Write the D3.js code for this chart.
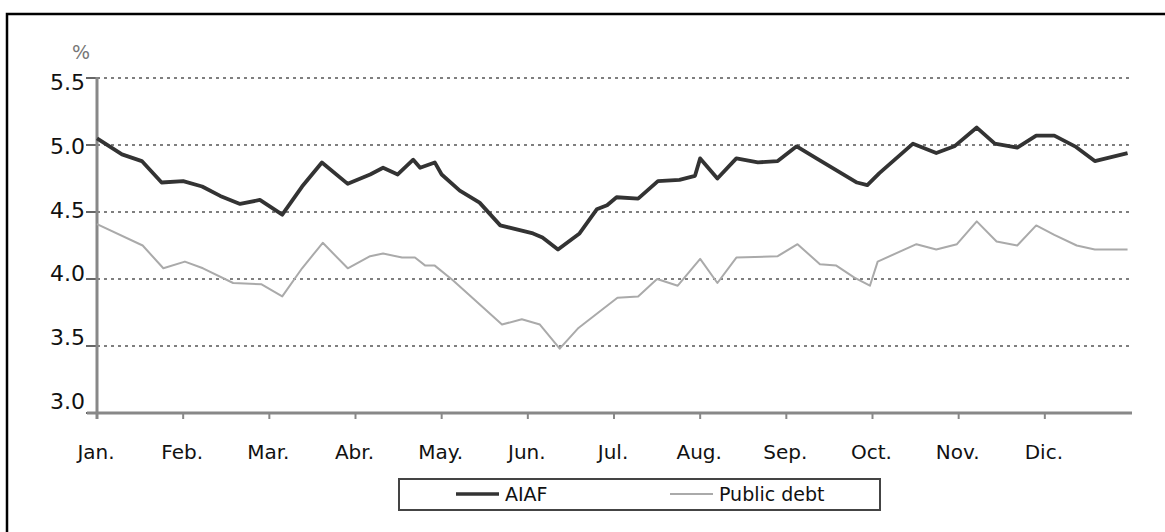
<!DOCTYPE html>
<html>
<head>
<meta charset="utf-8">
<script src="https://cdn.jsdelivr.net/npm/d3@7"></script>
<style>
  html, body { margin: 0; padding: 0; background: #fff; }
  svg { display: block; font-family: "DejaVu Sans", Verdana, sans-serif; }
</style>
</head>
<body>
<svg id="chart" width="1165" height="532"></svg>
<script>
// ---- data ----
const months = ["Jan.", "Feb.", "Mar.", "Abr.", "May.", "Jun.", "Jul.", "Aug.", "Sep.", "Oct.", "Nov.", "Dic."];
const yTicks = [3.0, 3.5, 4.0, 4.5, 5.0, 5.5];
// time position in months from start of January
const aiafT = [0, 0.29, 0.52, 0.75, 1.00, 1.22, 1.43, 1.66, 1.89, 2.15, 2.38, 2.61, 2.91, 3.17, 3.32, 3.49, 3.67, 3.75, 3.92, 4.00,
  4.21, 4.44, 4.68, 5.06, 5.17, 5.35, 5.60, 5.80, 5.92, 6.03, 6.28, 6.51, 6.76, 6.94, 7.00, 7.20, 7.42, 7.67, 7.90, 8.12,
  8.35, 8.82, 8.94, 9.08, 9.47, 9.74, 9.95, 10.21, 10.42, 10.68, 10.90, 11.11, 11.35, 11.58, 11.96];
const aiafV = [5.05, 4.93, 4.88, 4.72, 4.73, 4.69, 4.62, 4.56, 4.59, 4.48, 4.69, 4.87, 4.71, 4.78, 4.83, 4.78, 4.89, 4.83, 4.87, 4.78,
  4.66, 4.57, 4.40, 4.34, 4.31, 4.22, 4.34, 4.52, 4.55, 4.61, 4.60, 4.73, 4.74, 4.77, 4.90, 4.75, 4.90, 4.87, 4.88, 4.99,
  4.90, 4.72, 4.70, 4.79, 5.01, 4.94, 4.99, 5.13, 5.01, 4.98, 5.07, 5.07, 4.99, 4.88, 4.94];
const debtT = [0, 0.53, 0.77, 1.02, 1.23, 1.58, 1.91, 2.15, 2.38, 2.62, 2.91, 3.17, 3.32, 3.54, 3.69, 3.81, 3.92, 4.13, 4.70, 4.93,
  5.14, 5.37, 5.58, 5.86, 6.04, 6.28, 6.50, 6.74, 7.00, 7.20, 7.42, 7.90, 8.13, 8.39, 8.58, 8.79, 8.97, 9.06, 9.51, 9.74,
  9.98, 10.21, 10.44, 10.68, 10.90, 11.11, 11.37, 11.58, 11.96];
const debtV = [4.41, 4.25, 4.08, 4.13, 4.08, 3.97, 3.96, 3.87, 4.08, 4.27, 4.08, 4.17, 4.19, 4.16, 4.16, 4.10, 4.10, 3.99, 3.66, 3.70,
  3.66, 3.48, 3.63, 3.77, 3.86, 3.87, 4.00, 3.95, 4.15, 3.97, 4.16, 4.17, 4.26, 4.11, 4.10, 4.01, 3.95, 4.13, 4.26, 4.22,
  4.26, 4.43, 4.28, 4.25, 4.40, 4.33, 4.25, 4.22, 4.22];
const seriesNames = ["AIAF", "Public debt"];

// ---- layout ----
const svg = d3.select("#chart");
const x = d3.scaleLinear().domain([0, 12]).range([97, 1131]);
const y = d3.scaleLinear().domain([3, 5.5]).range([413, 78]);
const yLab = d3.scaleLinear().domain([3, 5.5]).range([401, 82]);

// outer frame (clipped at right/bottom)
svg.append("rect").attr("x", 7).attr("y", 14).attr("width", 1175).attr("height", 540)
  .attr("fill", "none").attr("stroke", "#000").attr("stroke-width", 2.5);

// gridlines
svg.append("g").selectAll("line").data(yTicks.filter(v => v > 3)).join("line")
  .attr("x1", 97).attr("x2", x(12)).attr("y1", d => y(d)).attr("y2", d => y(d))
  .attr("stroke", "#555").attr("stroke-width", 1.6).attr("stroke-dasharray", "3,4");

// y ticks
svg.append("g").selectAll("line").data(yTicks).join("line")
  .attr("x1", 86).attr("x2", 97).attr("y1", d => y(d)).attr("y2", d => y(d))
  .attr("stroke", "#666").attr("stroke-width", 2);

// y labels
svg.append("g").selectAll("text").data(yTicks).join("text")
  .attr("x", 85).attr("y", d => yLab(d)).attr("dy", "0.36em")
  .attr("text-anchor", "end").attr("font-size", 22).attr("fill", "#111")
  .text(d => d3.format(".1f")(d));

// "%" label
svg.append("text").attr("x", 81).attr("y", 59).attr("text-anchor", "middle")
  .attr("font-size", 19).attr("fill", "#777").text("%");

// axes lines
svg.append("line").attr("x1", 97).attr("x2", 97).attr("y1", 77).attr("y2", 419)
  .attr("stroke", "#888").attr("stroke-width", 3);
svg.append("line").attr("x1", 87).attr("x2", 1132).attr("y1", y(3)).attr("y2", y(3))
  .attr("stroke", "#888").attr("stroke-width", 3);

// x ticks
svg.append("g").selectAll("line").data(months).join("line")
  .attr("x1", (d, i) => x(i)).attr("x2", (d, i) => x(i))
  .attr("y1", y(3)).attr("y2", y(3) + 6)
  .attr("stroke", "#888").attr("stroke-width", 2);

// month labels
svg.append("g").selectAll("text").data(months).join("text")
  .attr("x", (d, i) => x(i) - 1).attr("y", 459).attr("text-anchor", "middle")
  .attr("font-size", 20).attr("fill", "#111").text(d => d);

// lines
const line = d3.line().x(d => x(d[0])).y(d => y(d[1]));
svg.append("path").datum(debtT.map((t, i) => [t, debtV[i]]))
  .attr("d", line).attr("fill", "none").attr("stroke", "#aaa").attr("stroke-width", 2)
  .attr("stroke-linejoin", "round");
svg.append("path").datum(aiafT.map((t, i) => [t, aiafV[i]]))
  .attr("d", line).attr("fill", "none").attr("stroke", "#333").attr("stroke-width", 3.8)
  .attr("stroke-linejoin", "round");

// legend
const lg = svg.append("g");
lg.append("rect").attr("x", 399).attr("y", 479).attr("width", 481).attr("height", 31)
  .attr("fill", "#fff").attr("stroke", "#444").attr("stroke-width", 2);
const legendItems = [
  { name: seriesNames[0], color: "#333", w: 3.5, x0: 456 },
  { name: seriesNames[1], color: "#aaa", w: 2, x0: 670 }
];
legendItems.forEach(it => {
  lg.append("line").attr("x1", it.x0).attr("x2", it.x0 + 43).attr("y1", 494).attr("y2", 494)
    .attr("stroke", it.color).attr("stroke-width", it.w);
  lg.append("text").attr("x", it.x0 + 49).attr("y", 501).attr("font-size", 19).attr("fill", "#111").text(it.name);
});
</script>
</body>
</html>
